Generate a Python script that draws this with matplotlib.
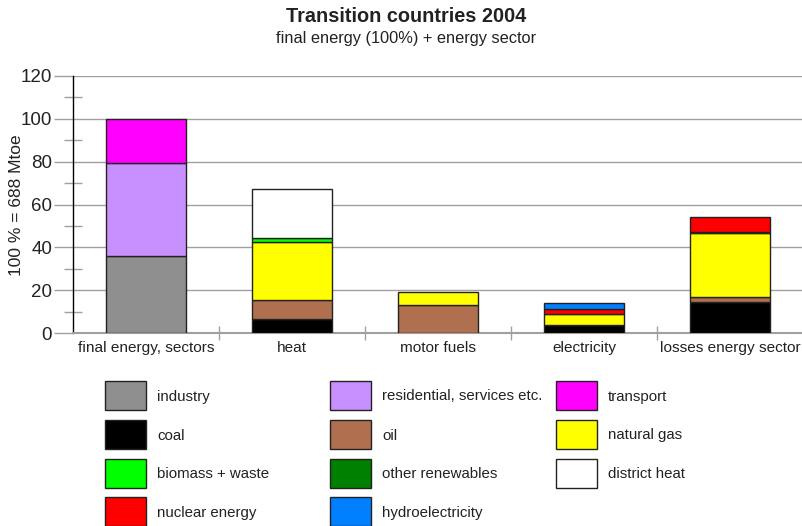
import matplotlib
matplotlib.use("Agg")
import matplotlib.pyplot as plt
from matplotlib.patches import Rectangle
import numpy as np

plt.rcParams['font.family'] = ['Liberation Sans', 'DejaVu Sans']

categories = ["final energy, sectors", "heat", "motor fuels", "electricity",
              "losses energy sector"]

# Shares in % of final energy (100 % = 688 Mtoe)
industry          = [35.8, 0, 0, 0, 0]
residential       = [43.8, 0, 0, 0, 0]
transport         = [20.4, 0, 0, 0, 0]
coal              = [0, 6.4, 0, 3.6, 14.5]
oil               = [0, 9.0, 13.1, 0, 2.5]
natural_gas       = [0, 26.9, 5.9, 5.1, 29.6]
biomass_waste     = [0, 1.9, 0, 0, 0]
other_renewables  = [0, 0, 0, 0, 0.7]
district_heat     = [0, 22.9, 0, 0, 0]
nuclear_energy    = [0, 0, 0, 2.4, 7.0]
hydroelectricity  = [0, 0, 0, 2.8, 0]

series = [
    ("industry", industry, "#8f8f8f"),
    ("residential, services etc.", residential, "#c890ff"),
    ("transport", transport, "#ff00ff"),
    ("coal", coal, "#000000"),
    ("oil", oil, "#b07050"),
    ("natural gas", natural_gas, "#ffff00"),
    ("biomass + waste", biomass_waste, "#00ff00"),
    ("other renewables", other_renewables, "#008000"),
    ("district heat", district_heat, "#ffffff"),
    ("nuclear energy", nuclear_energy, "#ff0000"),
    ("hydroelectricity", hydroelectricity, "#0080ff"),
]

W, H = 803, 526
fig = plt.figure(figsize=(W / 100, H / 100), dpi=100)
ax = fig.add_axes([73 / W, (H - 333) / H, 730 / W, 257 / H])

x = np.arange(len(categories))
bottom = np.zeros(len(categories))
for name, vals, col in series:
    v = np.array(vals, dtype=float)
    mask = v > 0
    ax.bar(x[mask], v[mask], width=0.55, bottom=bottom[mask], color=col,
           edgecolor="#222222", linewidth=1.0, zorder=3)
    bottom += v

ax.set_xlim(-0.5, len(categories) - 0.5)
ax.set_ylim(0, 120)

ax.set_yticks(np.arange(0, 121, 20))
ax.set_yticks(np.arange(10, 120, 20), minor=True)
ax.yaxis.grid(True, which="major", color="#a0a0a0", linewidth=1.0, zorder=0)
ax.set_axisbelow(True)
ax.tick_params(axis="y", which="major", length=14, color="#a0a0a0", width=1,
               labelsize=13.5, labelcolor="#222222", pad=1)
ax.tick_params(axis="y", which="minor", length=13, direction="inout",
               color="#a0a0a0", width=1)

ax.set_xticks(x)
ax.set_xticklabels(categories)
ax.set_xticks(np.arange(0.5, len(categories) - 0.5, 1), minor=True)
ax.tick_params(axis="x", which="major", length=0, labelsize=11.1,
               labelcolor="#222222", pad=6)
ax.tick_params(axis="x", which="minor", length=10, direction="inout",
               color="#a0a0a0", width=1)

for s in ("top", "right"):
    ax.spines[s].set_visible(False)
ax.spines["left"].set_color("#000000")
ax.spines["left"].set_linewidth(1.0)
ax.spines["bottom"].set_color("#a0a0a0")
ax.spines["bottom"].set_linewidth(1.5)

fig.text(17 / W, 1 - 205 / H, "100 % = 688 Mtoe", rotation=90, ha="center",
         va="center", fontsize=12.5, color="#222222")

fig.text(406 / W, 1 - 16 / H, "Transition countries 2004", ha="center",
         va="center", fontsize=14.3, fontweight="bold", color="#222222")
fig.text(406 / W, 1 - 38 / H, "final energy (100%) + energy sector",
         ha="center", va="center", fontsize=11.8, color="#222222")

# Legend grid: three columns, four rows
col_x = [105, 330, 556]
row_y = [381, 420, 459, 497]
order = [
    ["industry", "residential, services etc.", "transport"],
    ["coal", "oil", "natural gas"],
    ["biomass + waste", "other renewables", "district heat"],
    ["nuclear energy", "hydroelectricity", None],
]
colors = {name: col for name, _, col in series}
for r, row in enumerate(order):
    for c, name in enumerate(row):
        if name is None:
            continue
        x0, y0 = col_x[c], row_y[r]
        fig.patches.append(Rectangle((x0 / W, 1 - (y0 + 29) / H), 41 / W, 29 / H,
                                     transform=fig.transFigure,
                                     facecolor=colors[name],
                                     edgecolor="#222222", linewidth=1.0))
        fig.text((x0 + 52) / W, 1 - (y0 + 15.5) / H, name, ha="left",
                 va="center", fontsize=10.8, color="#222222")

fig.savefig("out.png", dpi=100)
